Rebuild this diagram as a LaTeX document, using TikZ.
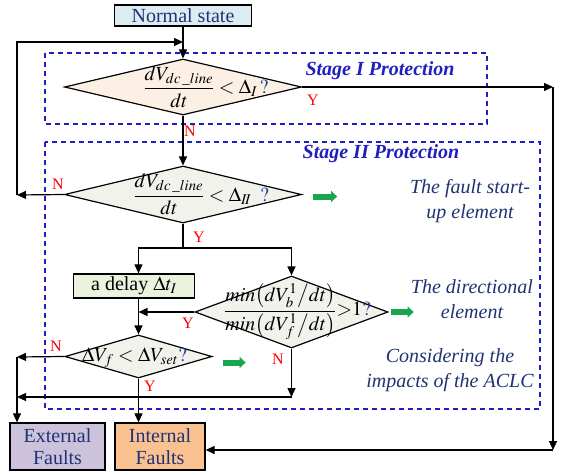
\documentclass[tikz,border=0pt]{standalone}
\usepackage{mathptmx}
\usepackage{amsmath}
\usepackage{fontspec}
\setmainfont{Liberation Serif}
\usetikzlibrary{arrows.meta,shapes.geometric}
\definecolor{qqqqcc}{rgb}{0.12,0.12,0.75}
\definecolor{qqttzz}{rgb}{0.12,0.2,0.45}
\definecolor{ddeeff}{rgb}{0.86,0.93,0.95}
\definecolor{ffeedd}{rgb}{0.99,0.94,0.9}
\definecolor{eeffee}{rgb}{0.94,0.95,0.92}
\definecolor{ddeecc}{rgb}{0.92,0.95,0.87}
\definecolor{ccccdd}{rgb}{0.8,0.76,0.86}
\definecolor{ffcc99}{rgb}{0.98,0.76,0.57}
\definecolor{qqaaqq}{rgb}{0.1,0.65,0.31}
\definecolor{qqqqaa}{rgb}{0.12,0.25,0.55}
\begin{document}
\begin{tikzpicture}[x=1pt,y=-1pt,
  every node/.style={font=\fontsize{20}{25}\selectfont},
  flow/.style={line width=1.2pt,-{Triangle[length=9pt,width=8pt]}},
  plain/.style={line width=1.2pt},
  stagebox/.style={draw=qqqqcc,line width=1.3pt,dash pattern=on 5pt off 4pt},
  decision/.style={diamond,draw,line width=1.2pt,inner sep=0pt},
  procbox/.style={draw,line width=1.3pt,text=qqttzz,inner sep=0pt,align=center},
  greenarrow/.style={qqaaqq,line width=6pt,-{Triangle[length=6pt,width=11pt]}},
  stagelabel/.style={text=qqqqcc,font=\fontsize{20}{24}\selectfont\bfseries\itshape},
  note/.style={text=qqttzz,align=center,font=\fontsize{20}{25}\selectfont\itshape},
  yn/.style={text=red,font=\fontsize{16}{18}\selectfont}]
\useasboundingbox (0,0) rectangle (564,474);
% dashed stage frames
\draw[stagebox] (45,53) rectangle (487,124);
\draw[stagebox] (45,142) rectangle (540,409);
\node[stagelabel] (stageI) at (380,71) {Stage I Protection};
\node[stagelabel] (stageII) at (381,154) {Stage II Protection};
% blocks
\node[procbox,fill=ddeeff,minimum width=137pt,minimum height=21pt] (normal) at (183,15.5) {Normal state};
\node[decision,fill=ffeedd,minimum width=237pt,minimum height=56pt] (d1) at (183,87) {};
\node[anchor=west] (d1txt) at (140,87) {$\dfrac{dV_{dc\,\_line}}{dt}<\Delta_{I}\,\textcolor{qqqqaa}{?}$};
\node[decision,fill=eeffee,minimum width=237pt,minimum height=57pt] (d2) at (183,194.5) {};
\node[anchor=west] (d2txt) at (130,194.5) {$\dfrac{dV_{dc\,\_line}}{dt}<\Delta_{I\!I}\;\;\textcolor{qqqqaa}{?}$};
\node[procbox,fill=ddeecc,minimum width=121pt,minimum height=24pt] (delay) at (134,286) {\textcolor{black}{a delay $\Delta t_{I}$}};
\node[decision,fill=eeffee,minimum width=193pt,minimum height=72pt] (d3) at (291.5,312) {};
\node[anchor=west,inner sep=0pt] (d3txt) at (224,312) {$\dfrac{min\bigl(dV_{b}^{1}\big/dt\bigr)}{min\bigl(dV_{f}^{1}\big/dt\bigr)}{>}1\textcolor{qqqqaa}{?}$};
\node[decision,fill=eeffee,minimum width=147pt,minimum height=43pt] (d4) at (138.5,356.5) {};
\node[anchor=west,inner sep=0pt] (d4txt) at (82,358) {$\Delta V_{f}<\Delta V_{set}\textcolor{qqqqaa}{?}$};
\node[procbox,fill=ccccdd,minimum width=95pt,minimum height=47pt] (external) at (57.5,446.5) {External\\[-3pt]Faults};
\node[procbox,fill=ffcc99,minimum width=90pt,minimum height=47pt] (internal) at (160,446.5) {Internal\\[-3pt]Faults};
% side notes
\node[note] (startup) at (470,201) {The fault start-\\up element};
\node[note] (direct) at (472,299) {The directional\\element};
\node[note] (aclc) at (450,370) {Considering the\\impacts of the ACLC};
% connectors
\coordinate (loopN) at (17,195);
\coordinate (loopTop) at (17,42);
\coordinate (rightTop) at (553,87);
\coordinate (rightBot) at (553,450);
\coordinate (split) at (183,248);
\coordinate (leftN) at (17,357);
\coordinate (d3N) at (291.5,397);
\draw[flow] (normal.south) -- (d1.north);
\draw[flow] (d1.south) -- (d2.north);
\draw[flow] (d2.west) -- (loopN);
\draw[flow] (loopN) -- (loopTop) -- (loopTop -| d1.north);
\draw[flow] (d1.east) -- (rightTop);
\draw[flow] (rightTop) -- (rightBot);
\draw[flow] (rightBot) -- (internal.east |- rightBot);
\draw[plain] (d2.south) -- (split);
\draw[flow] (split) -| (d4.north |- delay.north);
\draw[flow] (split) -| (d3.north);
\draw[flow] (d3.west) -- (d3.west -| d4.north);
\draw[flow] (d4.north |- delay.south) -- (d4.north);
\draw[flow] (d4.west) -- (leftN);
\draw[flow] (leftN) -- (leftN |- external.north);
\draw[flow] (d3.south) -- (d3N);
\draw[flow] (d3N) -- (d3N -| leftN);
\draw[flow] (d4.south) -- (d4.south |- internal.north);
% green pointers
\draw[greenarrow] ([xshift=11pt,yshift=-2pt]d2.east) -- ++(24,0);
\draw[greenarrow] ([xshift=2pt]d3.east) -- ++(23,0);
\draw[greenarrow] ([xshift=10pt,yshift=-6pt]d4.east) -- ++(23,0);
% Y / N labels
\node[yn] (n1) at (190,131) {N};
\node[yn] (y1) at (313,100) {Y};
\node[yn] (n2) at (58,184) {N};
\node[yn] (y2) at (199,237) {Y};
\node[yn] (y3) at (188,323) {Y};
\node[yn] (n3) at (278,359) {N};
\node[yn] (n4) at (56,346) {N};
\node[yn] (y4) at (150,386) {Y};
\end{tikzpicture}
\end{document}
